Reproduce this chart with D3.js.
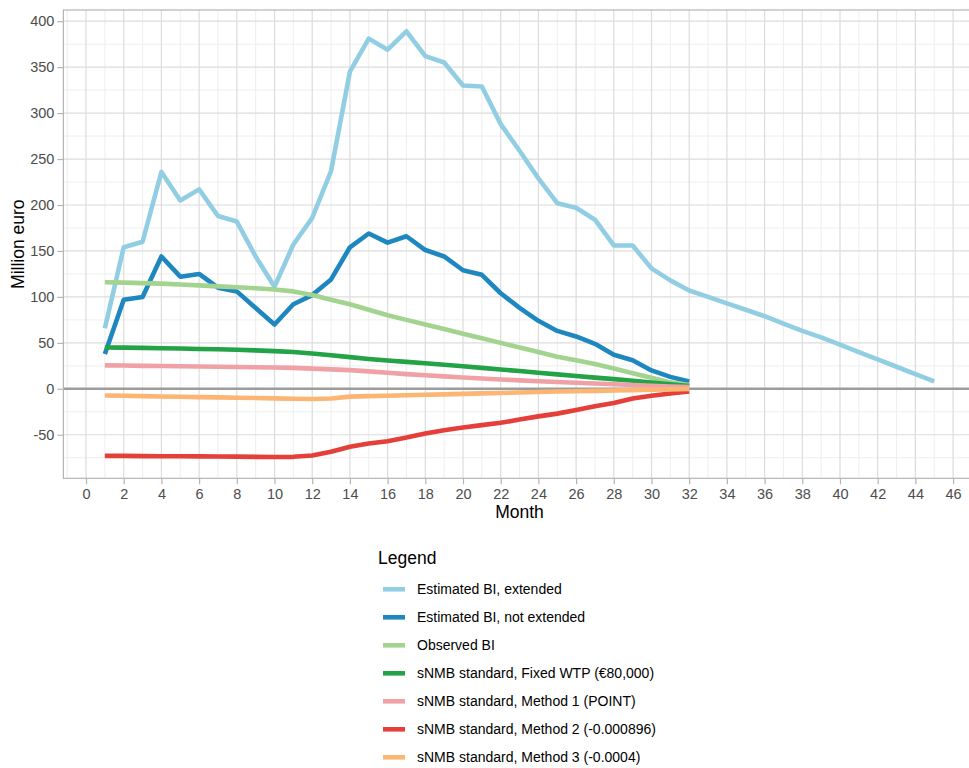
<!DOCTYPE html>
<html>
<head>
<meta charset="utf-8">
<script src="https://cdn.jsdelivr.net/npm/d3@7"></script>
<style>
  html, body { margin: 0; padding: 0; background: #fff; }
  svg { display: block; font-family: "Liberation Sans", Arial, Helvetica, sans-serif; }
</style>
</head>
<body>
<svg id="chart" width="969" height="768"></svg>
<script>
// Months on the x axis
const monthsLong = [1,2,3,4,5,6,7,8,9,10,11,12,13,14,15,16,17,18,19,20,21,22,23,24,25,26,27,28,29,30,31,32,33,34,35,36,37,38,39,40,41,42,43,44,45];
const monthsShort = [1,2,3,4,5,6,7,8,9,10,11,12,13,14,15,16,17,18,19,20,21,22,23,24,25,26,27,28,29,30,31,32];

// Series values (million euro)
const estimatedExtended = [66,154,160,236,205,217,188,182,144,111,157,186,237,345,381,369,389,362,355,330,329,288,259,229,202,197,184,156,156,131,118,107,100,93,86,79,71,63,56,48,40,32,24,16,8];
const estimatedNotExtended = [38,97,100,144,122,125,110,106,88,70,92,102,119,154,169,159,166,151,144,129,124,104,88,74,63,57,49,37,31,20,13,8];
const observedBI = [116,115.5,115,114.5,113.5,112.5,111.5,110.5,109.5,108,106,102,97,92,86,80,75,70,65,60,55,50,45,40,35,31,27,22,17,12,7,4];
const fixedWTP = [45,44.8,44.5,44.2,43.8,43.4,43,42.5,41.8,41,40,38.5,36.5,34.5,32.5,30.8,29.3,27.8,26.2,24.5,22.8,21,19.3,17.5,15.7,14,12.2,10.5,8.7,6.8,4.9,3];
const method1 = [25.5,25.3,25,24.8,24.5,24.3,24,23.8,23.5,23.2,22.8,22,21.2,20.3,19,17.5,16,14.7,13.5,12.3,11.2,10.2,9.2,8.3,7.4,6.6,5.8,5,4.2,3.4,2.6,1.8];
const method2 = [-73,-73,-73.2,-73.3,-73.4,-73.5,-73.6,-73.8,-74,-74.2,-74,-72.5,-68.5,-63,-59.5,-57,-53,-48.5,-45,-42,-39.5,-37,-33.5,-30,-27,-23,-19,-15.5,-10.5,-7.5,-5,-3];
const method3 = [-7.3,-7.6,-8,-8.3,-8.6,-9,-9.3,-9.7,-10,-10.4,-10.8,-11,-10.6,-8.5,-8,-7.5,-7,-6.5,-6,-5.5,-5,-4.5,-4,-3.5,-3,-2.6,-2.2,-1.8,-1.4,-1,-0.6,-0.2];

// Legend labels and colours, in drawing order
const seriesNames = [
  "Estimated BI, extended",
  "Estimated BI, not extended",
  "Observed BI",
  "sNMB standard, Fixed WTP (\u20AC80,000)",
  "sNMB standard, Method 1 (POINT)",
  "sNMB standard, Method 2 (-0.000896)",
  "sNMB standard, Method 3 (-0.0004)"
];
const seriesColors = ["#92cee3", "#1f87c0", "#a2d38f", "#23a246", "#f0a1a6", "#e53f3a", "#fcb572"];

// Axis ticks
const xTicks = [0,2,4,6,8,10,12,14,16,18,20,22,24,26,28,30,32,34,36,38,40,42,44,46];
const yTicks = [-50,0,50,100,150,200,250,300,350,400];
const xMinor = [-1,1,3,5,7,9,11,13,15,17,19,21,23,25,27,29,31,33,35,37,39,41,43,45,47];
const yMinor = [-75,-25,25,75,125,175,225,275,325,375];

const seriesData = [
  {x: monthsLong, y: estimatedExtended},
  {x: monthsShort, y: estimatedNotExtended},
  {x: monthsShort, y: observedBI},
  {x: monthsShort, y: fixedWTP},
  {x: monthsShort, y: method1},
  {x: monthsShort, y: method2},
  {x: monthsShort, y: method3}
].map((s, i) => ({
  name: seriesNames[i],
  color: seriesColors[i],
  points: s.x.map((m, j) => ({month: m, value: s.y[j]}))
}));

const svg = d3.select("#chart");
svg.append("rect").attr("width", 969).attr("height", 768).attr("fill", "#fff");

const panel = {left: 63.4, top: 10, right: 975.7, bottom: 478.3};

// ggplot-style 5% expansion of the data range
const allX = seriesData.flatMap(s => s.points.map(p => p.month));
const allY = seriesData.flatMap(s => s.points.map(p => p.value));
const xExt = d3.extent(allX), yExt = d3.extent(allY);
const xPad = (xExt[1] - xExt[0]) * 0.05, yPad = (yExt[1] - yExt[0]) * 0.05;

const x = d3.scaleLinear().domain([xExt[0] - xPad, xExt[1] + xPad]).range([panel.left, panel.right]);
const y = d3.scaleLinear().domain([yExt[0] - yPad, yExt[1] + yPad]).range([panel.bottom, panel.top]);

const g = svg.append("g");

// Minor grid
g.append("g").selectAll("line").data(xMinor).join("line")
  .attr("x1", d => x(d)).attr("x2", d => x(d))
  .attr("y1", panel.top).attr("y2", panel.bottom)
  .attr("stroke", "#ececec").attr("stroke-width", 0.9);
g.append("g").selectAll("line").data(yMinor).join("line")
  .attr("x1", panel.left).attr("x2", panel.right)
  .attr("y1", d => y(d)).attr("y2", d => y(d))
  .attr("stroke", "#ececec").attr("stroke-width", 0.9);

// Major grid
g.append("g").selectAll("line").data(xTicks).join("line")
  .attr("x1", d => x(d)).attr("x2", d => x(d))
  .attr("y1", panel.top).attr("y2", panel.bottom)
  .attr("stroke", "#dcdcdc").attr("stroke-width", 1.2);
g.append("g").selectAll("line").data(yTicks).join("line")
  .attr("x1", panel.left).attr("x2", panel.right)
  .attr("y1", d => y(d)).attr("y2", d => y(d))
  .attr("stroke", "#dcdcdc").attr("stroke-width", 1.2);

// Zero reference line
g.append("line")
  .attr("x1", panel.left).attr("x2", panel.right)
  .attr("y1", y(0)).attr("y2", y(0))
  .attr("stroke", "#9c9c9c").attr("stroke-width", 2.4);

// Series lines
const line = d3.line().x(d => x(d.month)).y(d => y(d.value));
g.append("g").selectAll("path").data(seriesData).join("path")
  .attr("d", d => line(d.points))
  .attr("fill", "none")
  .attr("stroke", d => d.color)
  .attr("stroke-width", 4.6)
  .attr("stroke-linejoin", "round")
  .attr("stroke-linecap", "butt");

// Panel border
g.append("rect")
  .attr("x", panel.left).attr("y", panel.top)
  .attr("width", panel.right - panel.left).attr("height", panel.bottom - panel.top)
  .attr("fill", "none").attr("stroke", "#b5b5b5").attr("stroke-width", 1.2);

// Axes
const yAxis = svg.append("g")
  .attr("transform", `translate(${panel.left},0)`)
  .call(d3.axisLeft(y).tickValues(yTicks).tickSize(6).tickPadding(3).tickFormat(d3.format("d")));
const xAxis = svg.append("g")
  .attr("transform", `translate(0,${panel.bottom})`)
  .call(d3.axisBottom(x).tickValues(xTicks).tickSize(6).tickPadding(4).tickFormat(d3.format("d")));
[yAxis, xAxis].forEach(a => {
  a.select(".domain").remove();
  a.selectAll(".tick line").attr("stroke", "#b5b5b5").attr("stroke-width", 1.2);
  a.selectAll(".tick text")
    .attr("fill", "#4d4d4d")
    .style("font-size", "14.5px")
    .style("font-family", "'Liberation Sans', Arial, sans-serif");
});
yAxis.selectAll(".tick text").text(d => d < 0 ? "-" + Math.abs(d) : d);

// Axis titles
svg.append("text")
  .attr("x", (panel.left + panel.right) / 2).attr("y", 518)
  .attr("text-anchor", "middle")
  .style("font-size", "17.5px").attr("fill", "#000")
  .text("Month");
svg.append("text")
  .attr("transform", `translate(24,${(panel.top + panel.bottom) / 2}) rotate(-90)`)
  .attr("text-anchor", "middle")
  .style("font-size", "17.5px").attr("fill", "#000")
  .text("Million euro");

// Legend
const legend = svg.append("g").attr("transform", "translate(378,0)");
legend.append("text")
  .attr("x", 0).attr("y", 564)
  .style("font-size", "17.5px").attr("fill", "#000")
  .text("Legend");
const items = legend.selectAll("g.item").data(seriesData).join("g")
  .attr("class", "item")
  .attr("transform", (d, i) => `translate(0,${589.3 + i * 28})`);
items.append("line")
  .attr("x1", 5).attr("x2", 27)
  .attr("y1", 0).attr("y2", 0)
  .attr("stroke", d => d.color).attr("stroke-width", 4.6);
items.append("text")
  .attr("x", 39).attr("y", 0).attr("dy", "0.36em")
  .style("font-size", "14px").attr("fill", "#000")
  .text(d => d.name);
</script>
</body>
</html>
